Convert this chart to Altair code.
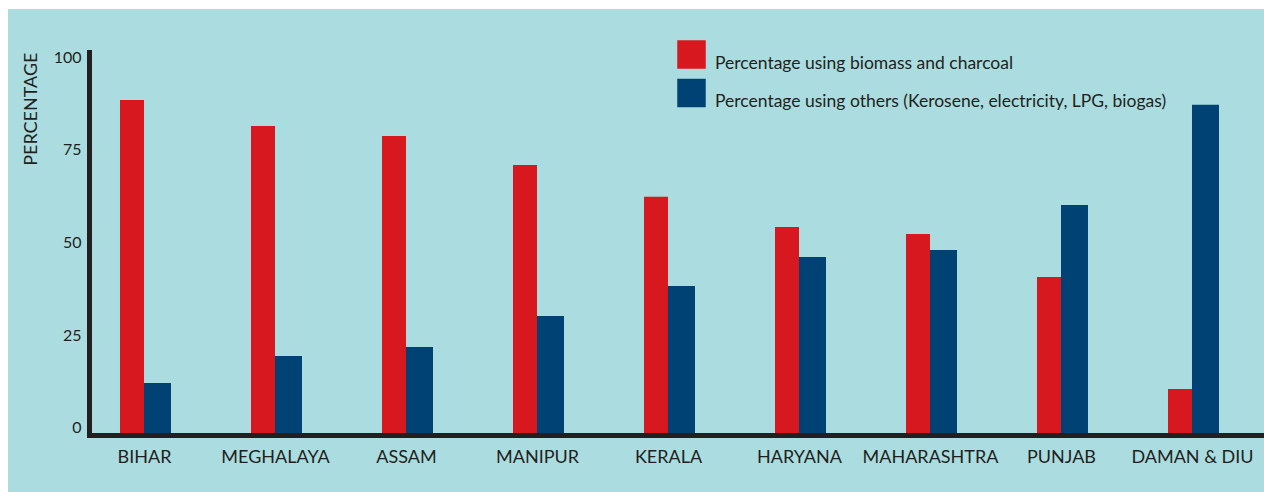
import altair as alt
import pandas as pd

# Share of households by main cooking fuel, per state
states = ["BIHAR", "MEGHALAYA", "ASSAM", "MANIPUR", "KERALA",
          "HARYANA", "MAHARASHTRA", "PUNJAB", "DAMAN & DIU"]
biomass = [88.4, 81.4, 78.7, 70.9, 62.3, 54.2, 52.3, 40.7, 10.5]
others = [12.1, 19.4, 21.8, 30.2, 38.3, 46.1, 48.0, 60.1, 87.1]

series_names = ["Percentage using biomass and charcoal",
                "Percentage using others (Kerosene, electricity, LPG, biogas)"]
series_colors = ["#d7181f", "#004273"]
y_ticks = [0, 25, 50, 75, 100]

rows = []
for s, b, o in zip(states, biomass, others):
    rows.append({"state": s, "series": series_names[0], "value": b})
    rows.append({"state": s, "series": series_names[1], "value": o})
df = pd.DataFrame(rows)

FONT = "Lato"
INK = "#231f20"
Y_MIN, Y_MAX = -1.887, 101.35

x_enc = alt.X("state:N", sort=states,
              scale=alt.Scale(type="point", padding=0.4733, align=0.4435),
              axis=alt.Axis(title=None, labelAngle=0, ticks=False, tickSize=0,
                            labelPadding=13, labelFontSize=18, labelOverlap=False,
                            grid=False, zindex=2, domainColor=INK, domainWidth=5,
                            domainCap="square", labelColor=INK, labelFont=FONT))
y_enc = alt.Y("value:Q",
              scale=alt.Scale(domain=[Y_MIN, Y_MAX], nice=False, zero=False),
              axis=alt.Axis(title="PERCENTAGE", values=y_ticks, ticks=False,
                            tickSize=0, grid=False, labelPadding=8,
                            labelFontSize=16, titleFontSize=18,
                            titleFontWeight="normal", titleAnchor="end",
                            titlePadding=13, zindex=2, domainColor=INK,
                            domainWidth=5, domainCap="square", labelColor=INK,
                            titleColor=INK, labelFont=FONT, titleFont=FONT))
color_enc = alt.Color("series:N",
                      scale=alt.Scale(domain=series_names, range=series_colors),
                      legend=alt.Legend(title=None, orient="none",
                                        legendX=588, legendY=-12,
                                        symbolType="square", symbolSize=812,
                                        symbolStrokeWidth=0, symbolOpacity=1,
                                        rowPadding=6.5, labelOffset=9,
                                        labelFontSize=17.5, labelBaseline="top",
                                        labelLimit=700, padding=0,
                                        labelColor=INK, labelFont=FONT))

base = alt.Chart(df).encode(x=x_enc, y=y_enc, y2=alt.datum(Y_MIN), color=color_enc)

red_bars = base.transform_filter(
    alt.datum.series == series_names[0]
).mark_bar(width=24, xOffset=-12)
blue_bars = base.transform_filter(
    alt.datum.series == series_names[1]
).mark_bar(width=27, xOffset=13.5)

# light-blue panel behind the plot
panel = alt.Chart(pd.DataFrame({"p": [0]})).mark_rect(color="#abdde0").encode(
    x=alt.value(-81), x2=alt.value(1175), y=alt.value(-43), y2=alt.value(440)
)

chart = alt.layer(panel, red_bars, blue_bars).properties(
    width=1172, height=383,
    autosize=alt.AutoSizeParams(type="none"),
    padding={"left": 89, "top": 52, "right": 3, "bottom": 57},
    background="white",
).configure_view(stroke=None)

chart.save("out.html", embed_options={"renderer": "svg", "actions": False})
